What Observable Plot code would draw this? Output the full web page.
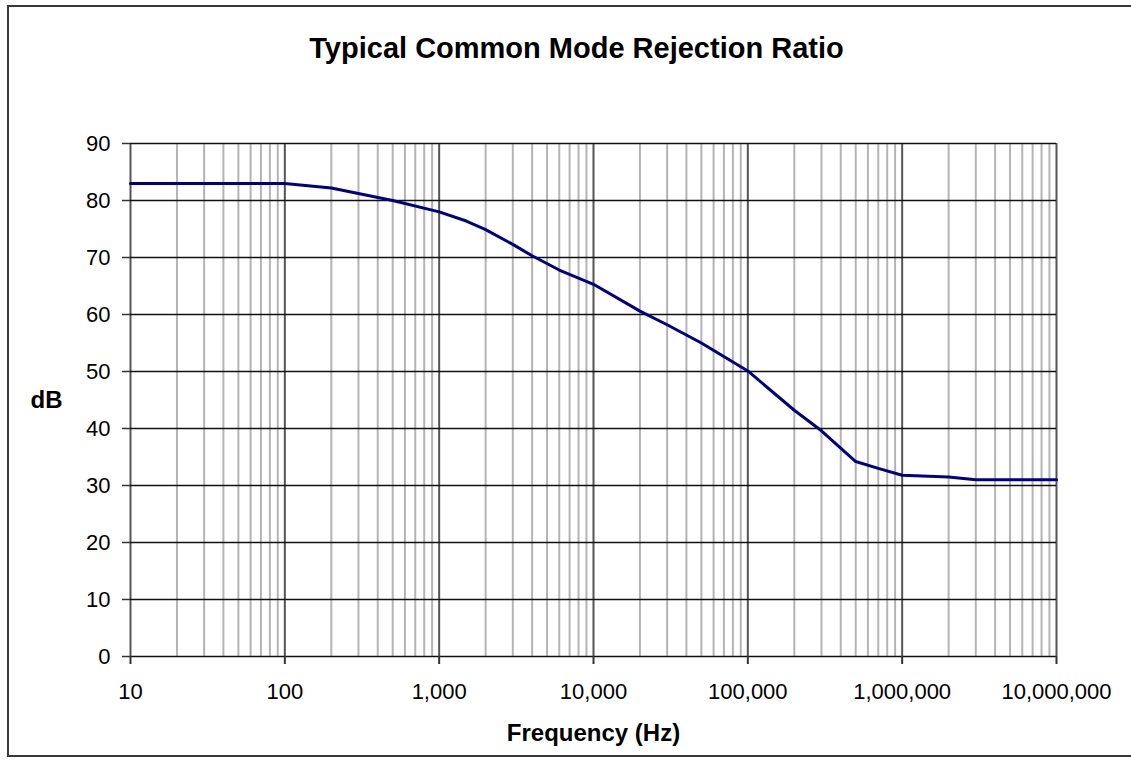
<!DOCTYPE html>
<html>
<head>
<meta charset="utf-8">
<script src="https://cdn.jsdelivr.net/npm/d3@7"></script>
<script src="https://cdn.jsdelivr.net/npm/@observablehq/plot@0.6"></script>
<style>
  html, body { margin: 0; padding: 0; background: #fff; overflow: hidden; }
  #frame { position: absolute; left: 7px; top: 5px; width: 1200px; height: 752px; border: 2px solid #3a3a3a; box-sizing: border-box; }
  #chart { position: absolute; left: 0; top: 0; }
</style>
</head>
<body>
<div id="frame"></div>
<div id="chart"></div>
<script>
const title = "Typical Common Mode Rejection Ratio";
const xLabel = "Frequency (Hz)";
const yLabel = "dB";

const frequency = [10, 100, 200, 500, 1000, 1500, 2000, 3000, 4000, 6000, 10000, 20000, 30000, 50000, 100000, 200000, 300000, 500000, 700000, 1000000, 2000000, 3000000, 10000000];
const cmrr = [83, 83, 82.2, 80, 78, 76.4, 74.9, 72.3, 70.3, 67.8, 65.3, 60.6, 58.2, 55, 50.1, 43.2, 39.6, 34.2, 33, 31.8, 31.5, 31, 31];

const xTicks = [10, 100, 1000, 10000, 100000, 1000000, 10000000];
const yTicks = [0, 10, 20, 30, 40, 50, 60, 70, 80, 90];
const minorMultipliers = [2, 3, 4, 5, 6, 7, 8, 9];

const minorTicks = xTicks.slice(0, -1).flatMap(d => minorMultipliers.map(m => d * m));
const data = frequency.map((f, i) => ({f, v: cmrr[i]}));

const font = "'Liberation Sans', Arial, sans-serif";

const chart = Plot.plot({
  width: 1131,
  height: 761,
  marginLeft: 130,
  marginRight: 75,
  marginTop: 143,
  marginBottom: 105,
  style: {fontFamily: font, background: "transparent", color: "#000", fontSize: "22px"},
  x: {type: "log", domain: [10, 10000000]},
  y: {domain: [0, 90]},
  marks: [
    Plot.ruleX(minorTicks, {stroke: "#b4b4b4", strokeWidth: 2}),
    Plot.ruleX(xTicks, {stroke: "#555", strokeWidth: 2}),
    Plot.ruleY(yTicks, {stroke: "#111", strokeWidth: 1.4}),
    Plot.axisX({ticks: xTicks, tickFormat: d3.format(","), tickSize: 8, tickPadding: 19, label: null, fontSize: 22, stroke: "#333", strokeWidth: 2}),
    Plot.axisY({ticks: yTicks, tickSize: 8, tickPadding: 12, label: null, fontSize: 22, stroke: "#333", strokeWidth: 1.5}),
    Plot.line(data, {x: "f", y: "v", stroke: "#000080", strokeWidth: 3, strokeLinejoin: "round"}),
    Plot.text([title], {frameAnchor: "top", dx: -17, dy: -95, lineAnchor: "middle", fontSize: 29, fontWeight: "bold", fill: "#000"}),
    Plot.text([xLabel], {frameAnchor: "bottom", dy: 77, lineAnchor: "middle", fontSize: 24, fontWeight: "bold", fill: "#000"}),
    Plot.text([yLabel], {frameAnchor: "left", dx: -84, textAnchor: "middle", lineAnchor: "middle", fontSize: 24, fontWeight: "bold", fill: "#000"})
  ]
});
document.getElementById("chart").appendChild(chart);
</script>
</body>
</html>
